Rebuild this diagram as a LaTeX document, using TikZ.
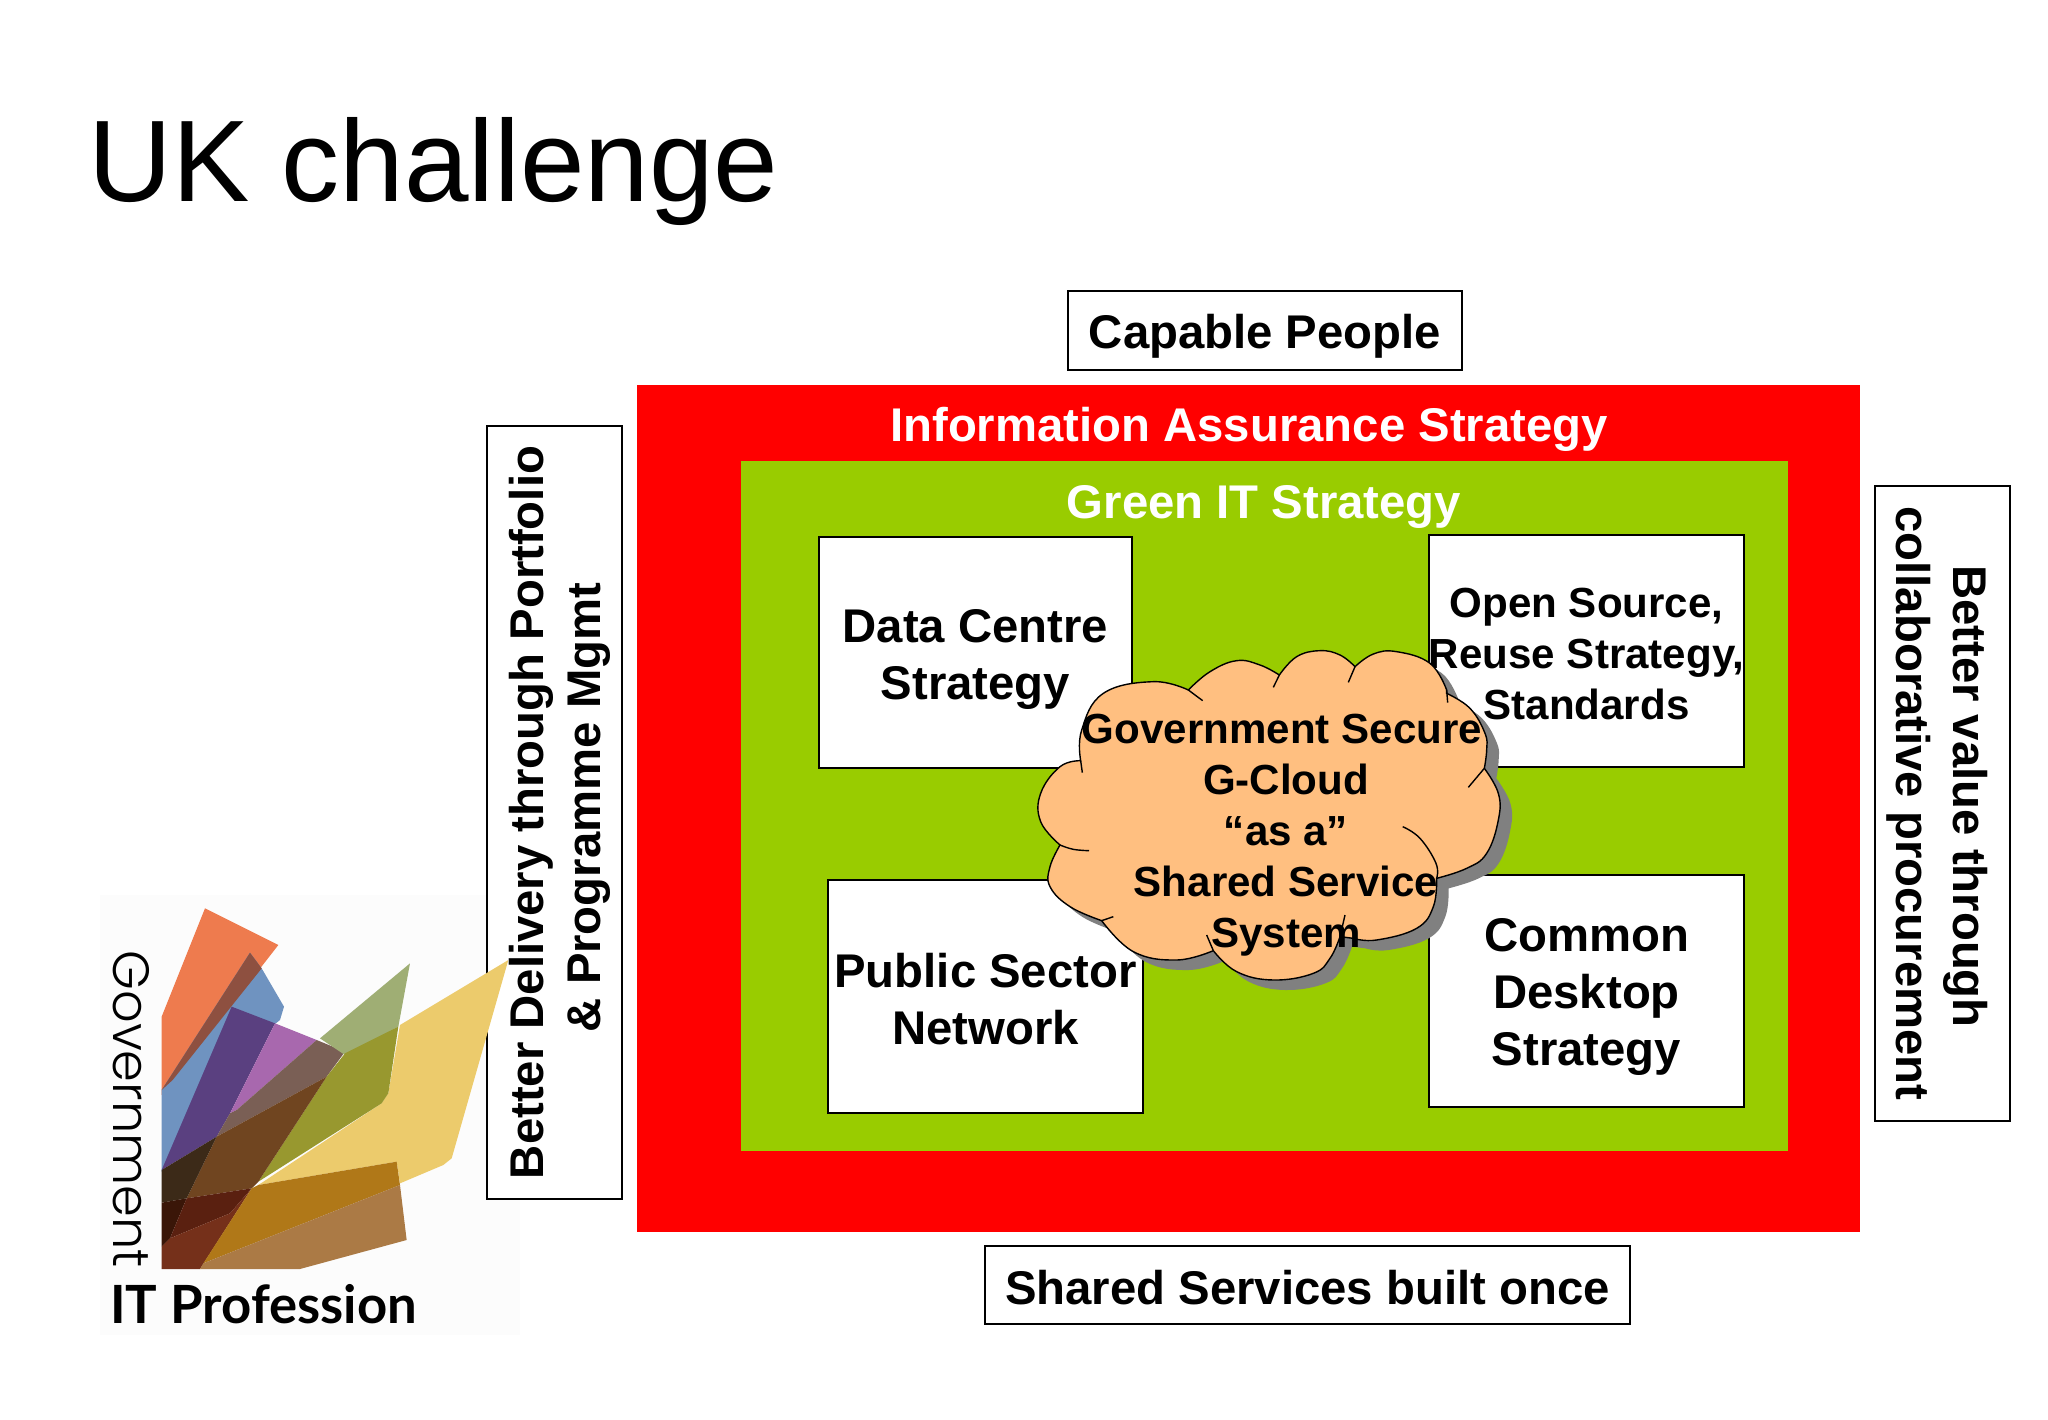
\documentclass[tikz,border=0pt]{standalone}
\usepackage{fontspec}
\setmainfont{Liberation Sans}
\newfontfamily\logobold{Lato}[BoldFont=* Bold]
\newfontfamily\logolight{Poppins Light}
\definecolor{iared}{HTML}{FF0000}
\definecolor{greenit}{HTML}{99CC00}
\definecolor{cloudfill}{HTML}{FFBF80}
\definecolor{cloudshadow}{HTML}{808080}
\tikzset{
  box/.style={draw=black,fill=white,line width=1.6pt,inner sep=0pt},
  boxtext/.style={inner sep=0pt,align=center,font=\bfseries\fontsize{47.3}{57}\selectfont},
  smallboxtext/.style={inner sep=0pt,align=center,font=\bfseries\fontsize{42.1}{51}\selectfont},
  band/.style={inner sep=0pt},
  bandtitle/.style={text=white,inner sep=0pt,font=\bfseries\fontsize{47.3}{57}\selectfont},
  petal/.style={draw=none},
}
\newcommand{\cloudpath}{
  plot[smooth,tension=0.7] coordinates {(505,180) (570,125) (650,92) (720,105) (778,135)}
  -- plot[smooth,tension=0.7] coordinates {(778,135) (830,80) (900,62) (960,75) (1005,110)}
  -- plot[smooth,tension=0.7] coordinates {(1005,110) (1060,72) (1130,65) (1230,100) (1280,180)}
  -- plot[smooth,tension=0.7] coordinates {(1280,190) (1350,235) (1395,310) (1400,360) (1393,415)}
  -- plot[smooth,tension=0.7] coordinates {(1393,415) (1435,490) (1435,570) (1400,670) (1340,715) (1250,745)}
  -- plot[smooth,tension=0.7] coordinates {(1250,745) (1240,830) (1190,895) (1070,930) (1000,925)}
  -- (960,920)
  -- plot[smooth,tension=0.7] coordinates {(960,920) (930,985) (880,1030) (760,1050) (650,1025) (580,962)}
  -- plot[smooth,tension=0.7] coordinates {(580,962) (470,990) (340,965) (245,872)}
  -- plot[smooth,tension=0.7] coordinates {(245,872) (150,830) (90,770) (90,710) (120,645)}
  -- plot[smooth,tension=0.7] coordinates {(120,645) (62,575) (62,490) (120,410) (182,392)}
  -- plot[smooth,tension=0.7] coordinates {(182,392) (185,300) (250,190) (400,155) (505,180)}
  -- cycle
}
\begin{document}
\begin{tikzpicture}[x=1pt,y=-1pt]
\useasboundingbox[fill=white] (0,0) rectangle (2048,1419);

% title
\node[anchor=base west,inner sep=0pt,font=\fontsize{116}{120}\selectfont] (title) at (88.5,201) {UK challenge};

% faint paper of the logo
\fill[white!99!black] (100,895) rectangle (520,1335);

% bands
\node[band,fill=iared,minimum width=1223pt,minimum height=847pt] (red) at (1248.5,808.5) {};
\node[band,fill=greenit,minimum width=1047pt,minimum height=690pt] (green) at (1264.5,806) {};
\node[bandtitle] (redtitle) at (1249,429) {Information Assurance Strategy};
\node[bandtitle] (greentitle) at (1264,507) {Green IT Strategy};

% outer boxes
\node[box,minimum width=394pt,minimum height=79pt] (people) at (1265,330.5) {};
\node[boxtext] (peopletext) at ([yshift=-6pt]people.center) {Capable People};
\node[box,minimum width=645pt,minimum height=78pt] (shared) at (1307.5,1285) {};
\node[boxtext] (sharedtext) at ([yshift=-3pt]shared.center) {Shared Services built once};
\node[box,minimum width=135pt,minimum height=773pt] (delivery) at (554.5,812.5) {};
\node[boxtext,rotate=90] (deliverytext) at ([xshift=5.5pt]delivery.center) {Better Delivery through Portfolio\\\hspace*{10pt}\& Programme Mgmt};
\node[box,minimum width=135pt,minimum height=635pt] (value) at (1942.5,803.5) {};
\node[boxtext,rotate=-90] (valuetext) at ([xshift=-5pt]value.center) {Better value through\hspace*{14pt}\\collaborative procurement};

% inner boxes
\node[box,minimum width=313pt,minimum height=231pt] (dc) at (975.5,652.5) {};
\node[boxtext] (dctext) at ([yshift=-7pt]dc.center) {Data Centre\\Strategy};
\node[box,minimum width=315pt,minimum height=232pt] (open) at (1586.5,651) {};
\node[smallboxtext] (opentext) at ([yshift=-3pt]open.center) {Open Source,\\Reuse Strategy,\\Standards};
\node[box,minimum width=315pt,minimum height=233pt] (psn) at (985.5,996.5) {};
\node[boxtext] (psntext) at ([yshift=-3pt]psn.center) {Public Sector\\Network};
\node[box,minimum width=315pt,minimum height=232pt] (desktop) at (1586.5,991) {};
\node[boxtext] (desktoptext) at ([yshift=-6pt]desktop.center) {Common\\Desktop\\Strategy};

% logo
\begin{scope}[shift={(80,880)},x=0.33333pt,y=-0.33333pt]
  \fill[petal,fill={rgb,255:red,238;green,123;blue,78}] (375,85) -- (595,195) -- (245,645) -- (245,410) -- cycle;
  \fill[petal,fill={rgb,255:red,111;green,147;blue,192}] (510,218) -- (545,265) -- (612,380) -- (600,420) -- (585,432) -- (245,875) -- (245,630) -- cycle;
  \fill[petal,fill={rgb,255:red,142;green,80;blue,64}] (510,218) -- (545,265) -- (278,600) -- (245,630) -- cycle;
  \fill[petal,fill={rgb,255:red,90;green,64;blue,128}] (455,380) -- (585,430) -- (450,700) -- (410,770) -- (245,870) -- cycle;
  \fill[petal,fill={rgb,255:red,168;green,104;blue,174}] (585,430) -- (710,480) -- (470,690) -- (450,700) -- cycle;
  \fill[petal,fill={rgb,255:red,122;green,95;blue,85}] (710,480) -- (795,515) -- (740,590) -- (410,770) -- (450,700) -- (470,690) -- cycle;
  \fill[petal,fill={rgb,255:red,159;green,174;blue,116}] (990,250) -- (955,440) -- (795,525) -- (720,475) -- cycle;
  \fill[petal,fill={rgb,255:red,236;green,203;blue,108}] (1285,240) -- (1115,835) -- (1090,855) -- (960,910) -- (950,845) -- (535,915) -- (905,670) -- (925,640) -- (960,435) -- cycle;
  \fill[petal,fill={rgb,255:red,152;green,152;blue,47}] (955,440) -- (925,640) -- (905,670) -- (535,905) -- (740,590) -- (795,520) -- cycle;
  \fill[petal,fill={rgb,255:red,112;green,69;blue,32}] (740,590) -- (535,905) -- (515,925) -- (320,955) -- (410,770) -- cycle;
  \fill[petal,fill={rgb,255:red,60;green,42;blue,24}] (245,870) -- (410,770) -- (320,955) -- (245,968) -- cycle;
  \fill[petal,fill={rgb,255:red,58;green,22;blue,8}] (245,968) -- (320,955) -- (270,1075) -- (245,1100) -- cycle;
  \fill[petal,fill={rgb,255:red,90;green,32;blue,16}] (320,955) -- (515,925) -- (450,1000) -- (270,1075) -- cycle;
  \fill[petal,fill={rgb,255:red,117;green,48;blue,26}] (245,1100) -- (270,1075) -- (450,1000) -- (515,925) -- (360,1167) -- (245,1167) -- cycle;
  \fill[petal,fill={rgb,255:red,176;green,120;blue,24}] (535,915) -- (950,845) -- (960,915) -- (370,1150) -- (515,925) -- cycle;
  \fill[petal,fill={rgb,255:red,171;green,122;blue,69}] (960,915) -- (980,1080) -- (660,1167) -- (360,1167) -- (370,1150) -- cycle;
\end{scope}
\node[rotate=-90,inner sep=0pt,font=\logolight\fontsize{51}{53}\selectfont] (logogov) at (131,1109) {Government};
\node[anchor=base west,inner sep=0pt,font=\logobold\bfseries\fontsize{52.7}{58}\selectfont] (logoit) at (110,1323) {IT Profession};

% cloud
\begin{scope}[shift={(1032,640)},x=0.33333pt,y=-0.33333pt]
  \fill[cloudshadow] \cloudpath;
\end{scope}
\begin{scope}[shift={(1020,630)},x=0.33333pt,y=-0.33333pt,line width=1.4pt]
  \filldraw[fill=cloudfill,draw=black] \cloudpath;
  \draw (505,180) -- (548,212);
  \draw (760,172) -- (778,135);
  \draw (985,157) -- (1005,110);
  \draw (1283,218) -- (1280,180);
  \draw (1393,415) -- (1345,472);
  \draw plot[smooth,tension=0.7] coordinates {(1148,590) (1200,625) (1248,700) (1250,745)};
  \draw (975,855) -- (960,920);
  \draw (560,915) -- (580,962);
  \draw (245,872) -- (280,860);
  \draw plot[smooth,tension=0.7] coordinates {(120,645) (160,658) (207,662)};
  \draw (182,392) -- (187,428);
\end{scope}
\node[inner sep=0pt,align=center,font=\bfseries\fontsize{42.1}{51}\selectfont] (cloudtext) at (1286,835) {Government Secure\hspace*{8pt}\\G-Cloud\\“as a”\\Shared Service\\System};
\end{tikzpicture}
\end{document}
